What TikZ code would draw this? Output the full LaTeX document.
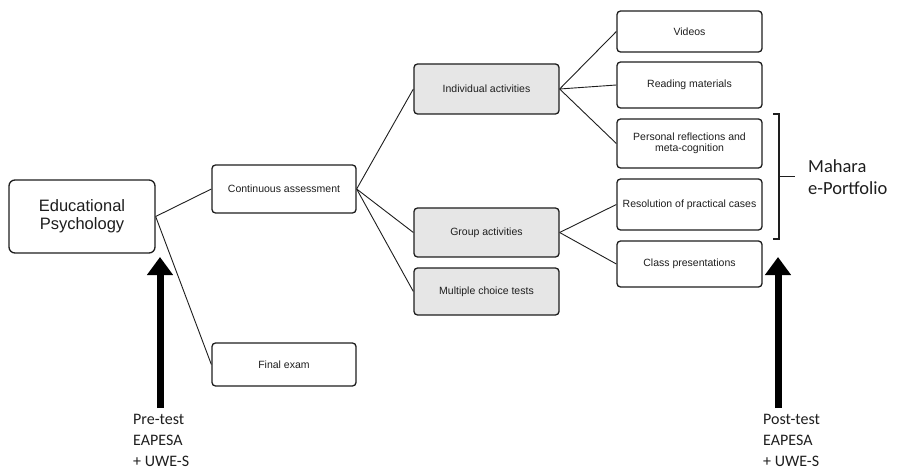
\documentclass[tikz,border=0pt]{standalone}
\usepackage{fontspec}
\setmainfont{Liberation Sans}
\newfontfamily\calfont{Carlito}
\usetikzlibrary{arrows.meta}
\definecolor{boxgray}{HTML}{E6E6E6}
\definecolor{ink}{HTML}{1E1E1E}
\tikzset{
  box/.style={draw=ink, line width=1.3pt, rounded corners=3.5pt, fill=white, text=ink,
    font=\fontsize{10.5}{11.5}\selectfont, align=center, inner sep=0pt, minimum width=145pt},
  graybox/.style={box, fill=boxgray},
  link/.style={draw=ink, line width=0.9pt},
  bigarrow/.style={draw=black, line width=7pt, -{Triangle[width=25pt,length=18pt]}},
  note/.style={font=\calfont\fontsize{16}{21}\selectfont, align=left, anchor=north west, inner sep=0pt, text=ink},
}
\begin{document}
\begin{tikzpicture}[x=1pt,y=-1pt]
\useasboundingbox (0,0) rectangle (897,473);
% level 0
\node[box, minimum width=146pt, minimum height=73pt, rounded corners=6pt,
  font=\fontsize{16.5}{18}\selectfont] (edu) at (82,216.5) {Educational\\Psychology};
% level 1
\node[box, minimum width=144pt, minimum height=48pt] (cont) at (284,189) {Continuous assessment};
\node[box, minimum width=144pt, minimum height=43pt] (final) at (284,364.5) {Final exam};
% level 2
\node[graybox, minimum height=50pt] (indiv) at (486.5,89) {Individual activities};
\node[graybox, minimum height=49pt] (group) at (486.5,232.5) {Group activities};
\node[graybox, minimum height=47pt] (mct) at (486.5,291.5) {Multiple choice tests};
% level 3
\node[box, minimum height=41pt] (videos) at (689.5,31.5) {Videos};
\node[box, minimum height=46pt] (reading) at (689.5,85) {Reading materials};
\node[box, minimum height=49pt, font=\fontsize{10.5}{11}\selectfont] (personal) at (689.5,143.5) {Personal reflections and\\meta-cognition};
\node[box, minimum height=51pt] (resol) at (689.5,204.5) {Resolution of practical cases};
\node[box, minimum height=46pt] (class) at (689.5,264) {Class presentations};
% connectors
\draw[link] (edu.east) -- (cont.west);
\draw[link] (edu.east) -- (final.west);
\draw[link] (cont.east) -- (indiv.west);
\draw[link] (cont.east) -- (group.west);
\draw[link] (cont.east) -- (mct.west);
\draw[link] (indiv.east) -- (videos.west);
\draw[link] (indiv.east) -- (reading.west);
\draw[link] (indiv.east) -- (personal.west);
\draw[link] (group.east) -- (resol.west);
\draw[link] (group.east) -- (class.west);
% bracket
\coordinate (brtop) at (773,114);
\coordinate (brbot) at (773,239);
\coordinate (brmid) at (779,176.5);
\draw[draw=ink, line width=1.8pt] (brtop) -- ++(6,0) |- (brbot);
\draw[draw=ink, line width=1.8pt] (brmid) -- ++(16,0);
\node[note, anchor=west, font=\calfont\fontsize{18.5}{22.5}\selectfont] (mahara) at (808,177) {Mahara\\e-Portfolio};
% pre/post test
\node[note] (pre) at (133,414) {Pre-test\\EAPESA\\+ UWE-S};
\node[note] (post) at (763,414) {Post-test\\EAPESA\\+ UWE-S};
\coordinate (pretop) at (160,257);
\coordinate (posttop) at (778,257);
\draw[bigarrow] (160,408) -- (pretop);
\draw[bigarrow] (778,408) -- (posttop);
\end{tikzpicture}
\end{document}
